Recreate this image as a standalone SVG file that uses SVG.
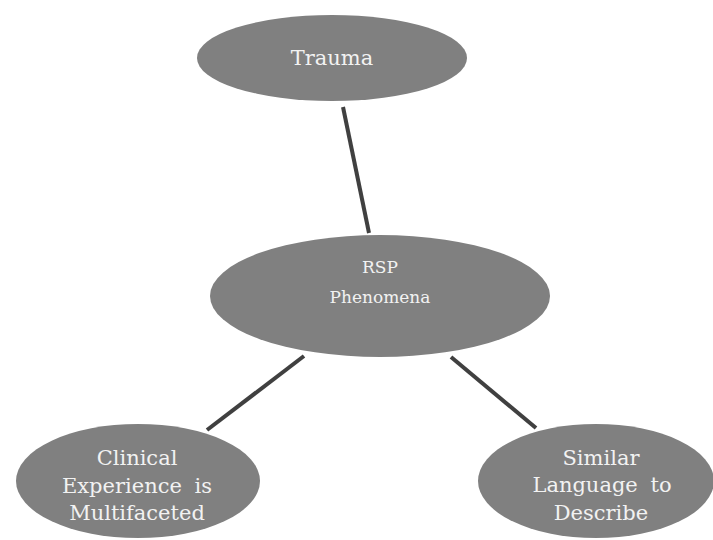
<svg xmlns="http://www.w3.org/2000/svg" width="713" height="540" viewBox="0 0 713 540">
<style>
.node ellipse{fill:#808080;}
.node text{font-family:"DejaVu Serif","Liberation Serif",serif;fill:#f2f2f2;text-anchor:middle;}
.edge{stroke:#404040;stroke-width:4;fill:none;}
</style>
<rect width="713" height="540" fill="#ffffff"/>
<g id="connectors">
<line class="edge" x1="343" y1="107" x2="369" y2="233"/>
<line class="edge" x1="304" y1="356" x2="207" y2="430"/>
<line class="edge" x1="451" y1="357" x2="536" y2="428"/>
</g>
<g id="trauma" class="node">
<ellipse cx="332" cy="58" rx="135" ry="43"/>
<text x="332" y="65" font-size="21">Trauma</text>
</g>
<g id="rsp" class="node">
<ellipse cx="380" cy="296" rx="170" ry="61"/>
<text x="380" y="273" font-size="17">RSP</text>
<text x="380" y="303" font-size="17">Phenomena</text>
</g>
<g id="clinical" class="node">
<ellipse cx="138" cy="481" rx="122" ry="57"/>
<text x="137" y="465" font-size="21">Clinical</text>
<text x="137" y="493" font-size="21" word-spacing="6">Experience is</text>
<text x="137" y="520" font-size="21">Multifaceted</text>
</g>
<g id="similar" class="node">
<ellipse cx="596" cy="481" rx="118" ry="57"/>
<text x="601" y="465" font-size="21">Similar</text>
<text x="602" y="492" font-size="21" word-spacing="6">Language to</text>
<text x="601" y="520" font-size="21">Describe</text>
</g>
</svg>
